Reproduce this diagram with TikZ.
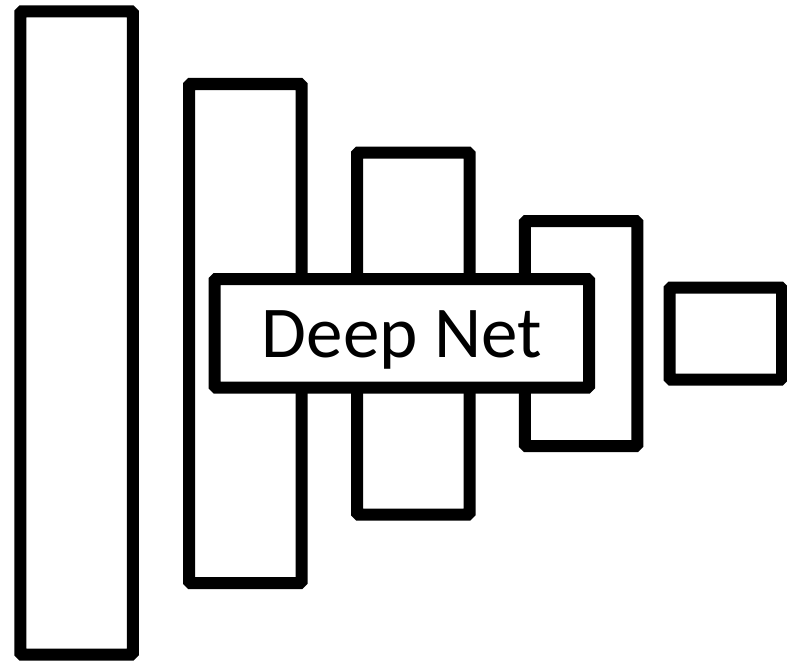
\documentclass[tikz,border=0pt]{standalone}
\usepackage{fontspec}
\setmainfont{Carlito}
\begin{document}
\begin{tikzpicture}[x=1pt,y=-1pt,
  layer/.style={draw=black,line width=12pt,fill=white,inner sep=0pt,
    minimum width=112.5pt,rounded corners=1.5pt},
  netbox/.style={draw=black,line width=12pt,fill=white,inner sep=0pt,
    minimum width=374.5pt,minimum height=108.5pt,rounded corners=1.5pt,
    text height=50pt,text depth=2.5pt,
    font=\fontsize{73}{86}\selectfont}]
  \useasboundingbox (0,0) rectangle (787,661);
  % stacked layers of decreasing height
  \node[layer,minimum height=643pt] (l1) at (76.5,333) {};
  \node[layer,minimum height=499pt] (l2) at (245.25,333.5) {};
  \node[layer,minimum height=362pt] (l3) at (413.25,333.5) {};
  \node[layer,minimum height=225pt] (l4) at (581,333.5) {};
  \node[layer,minimum height=92pt] (l5) at (725.75,333.5) {};
  % label box across the middle layers
  \node[netbox] (net) at (401.75,333.25) {Deep Net};
\end{tikzpicture}
\end{document}
